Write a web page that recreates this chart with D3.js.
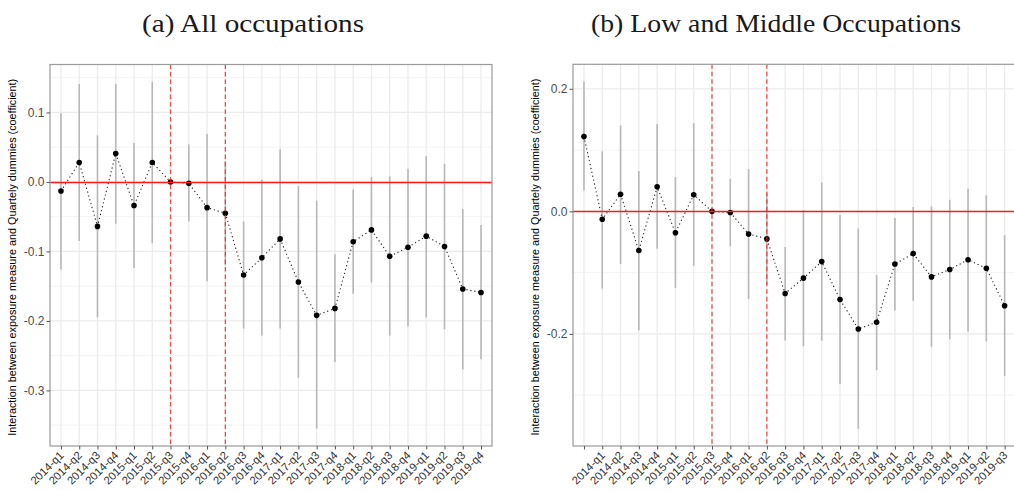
<!DOCTYPE html>
<html>
<head>
<meta charset="utf-8">
<script src="https://cdn.jsdelivr.net/npm/d3@7"></script>
<style>
    body { margin: 0; background: #fff; }
    svg { display: block; }
</style>
</head>
<body>
<svg id="chart" width="1014" height="491"></svg>
<script>
// panel (a): all occupations
var catsA = ["2014-q1","2014-q2","2014-q3","2014-q4","2015-q1","2015-q2","2015-q3","2015-q4",
             "2016-q1","2016-q2","2016-q3","2016-q4","2017-q1","2017-q2","2017-q3","2017-q4",
             "2018-q1","2018-q2","2018-q3","2018-q4","2019-q1","2019-q2","2019-q3","2019-q4"];
var estA  = [-0.013, 0.028, -0.064, 0.041, -0.034, 0.028, 0.000, -0.002, -0.037, -0.045, -0.134, -0.109,
             -0.082, -0.144, -0.192, -0.182, -0.086, -0.069, -0.107, -0.094, -0.078, -0.093, -0.154, -0.159];
var lowA  = [-0.126, -0.085, -0.195, -0.060, -0.124, -0.088, 0.000, -0.057, -0.143, -0.120, -0.211, -0.221,
             -0.211, -0.282, -0.355, -0.259, -0.161, -0.145, -0.221, -0.208, -0.195, -0.212, -0.270, -0.255];
var highA = [0.099, 0.141, 0.067, 0.141, 0.056, 0.144, 0.000, 0.054, 0.069, 0.030, -0.057, 0.003,
             0.047, -0.006, -0.027, -0.104, -0.011, 0.007, 0.008, 0.019, 0.037, 0.026, -0.039, -0.062];
var yTicksA = [0.1, 0, -0.1, -0.2, -0.3];
var yLabelsA = ["0.1", "0.0", "-0.1", "-0.2", "-0.3"];
var yMinorA = [0.15, 0.05, -0.05, -0.15, -0.25, -0.35];
var vlinesA = ["2015-q3", "2016-q2"];

// panel (b): low and middle occupations
var catsB = ["","2014-q1","2014-q2","2014-q3","2014-q4","2015-q1","2015-q2","2015-q3","2015-q4",
             "2016-q1","2016-q2","2016-q3","2016-q4","2017-q1","2017-q2","2017-q3","2017-q4",
             "2018-q1","2018-q2","2018-q3","2018-q4","2019-q1","2019-q2","2019-q3"];
var estB  = [0.122, -0.013, 0.028, -0.064, 0.040, -0.035, 0.027, 0.000, -0.002, -0.037, -0.045, -0.134,
             -0.109, -0.082, -0.144, -0.192, -0.181, -0.086, -0.069, -0.107, -0.095, -0.079, -0.093, -0.154];
var lowB  = [0.034, -0.126, -0.086, -0.194, -0.061, -0.125, -0.089, 0.000, -0.057, -0.143, -0.120, -0.211,
             -0.220, -0.211, -0.282, -0.355, -0.259, -0.162, -0.146, -0.221, -0.209, -0.196, -0.212, -0.269];
var highB = [0.212, 0.098, 0.140, 0.066, 0.142, 0.056, 0.144, 0.000, 0.053, 0.069, 0.030, -0.058,
             0.002, 0.047, -0.006, -0.028, -0.104, -0.011, 0.007, 0.008, 0.019, 0.037, 0.026, -0.039];
var yTicksB = [0.2, 0, -0.2];
var yLabelsB = ["0.2", "0.0", "-0.2"];
var yMinorB = [0.1, -0.1, -0.3];
var vlinesB = ["2015-q3", "2016-q2"];

var yTitle = "Interaction between exposure measure and Quartely dummies (coefficient)";

var svg = d3.select("#chart");

function drawPanel(p)
{
    var g = svg.append("g");

    var x = d3.scalePoint().domain(p.cats).range([p.left, p.right]).padding(0.6);
    var y = d3.scaleLinear().domain(p.ydomain).range([p.bottom, p.top]);

    // gridlines
    g.selectAll(".minor").data(p.minor).enter().append("line")
        .attr("x1", p.left).attr("x2", p.right)
        .attr("y1", d => y(d)).attr("y2", d => y(d))
        .attr("stroke", "#f3f3f3").attr("stroke-width", 1);

    g.selectAll(".majorY").data(p.ticks).enter().append("line")
        .attr("x1", p.left).attr("x2", p.right)
        .attr("y1", d => y(d)).attr("y2", d => y(d))
        .attr("stroke", "#ebebeb").attr("stroke-width", 1.3);

    g.selectAll(".majorX").data(p.cats).enter().append("line")
        .attr("x1", d => x(d)).attr("x2", d => x(d))
        .attr("y1", p.top).attr("y2", p.bottom)
        .attr("stroke", "#ebebeb").attr("stroke-width", 1.3);

    var rows = p.cats.map((c, i) => ({cat: c, est: p.est[i], low: p.low[i], high: p.high[i]}));

    // error bars
    g.selectAll(".err").data(rows).enter().append("line")
        .attr("x1", d => x(d.cat)).attr("x2", d => x(d.cat))
        .attr("y1", d => y(d.low)).attr("y2", d => y(d.high))
        .attr("stroke", "#b8b8b8").attr("stroke-width", 1.6);

    // dotted connecting line
    var line = d3.line().x(d => x(d.cat)).y(d => y(d.est));
    g.append("path").datum(rows)
        .attr("d", line)
        .attr("fill", "none")
        .attr("stroke", "#222")
        .attr("stroke-width", 1.1)
        .attr("stroke-dasharray", "1.2,2.8");

    g.selectAll(".pt").data(rows).enter().append("circle")
        .attr("cx", d => x(d.cat)).attr("cy", d => y(d.est))
        .attr("r", 2.8).attr("fill", "#000");

    // reference lines
    var y0 = Math.round(y(0)) + 0.5;
    g.append("line")
        .attr("x1", p.left).attr("x2", p.right)
        .attr("y1", y0).attr("y2", y0)
        .attr("stroke", "#ff1a1a").attr("stroke-width", 1.3);

    g.selectAll(".vl").data(p.vlines).enter().append("line")
        .attr("x1", d => x(d)).attr("x2", d => x(d))
        .attr("y1", p.top).attr("y2", p.bottom)
        .attr("stroke", "#ff2020").attr("stroke-width", 1.3).attr("opacity", 0.8)
        .attr("stroke-dasharray", "4.5,3");

    // border
    g.append("rect")
        .attr("x", p.left).attr("y", p.top)
        .attr("width", p.right - p.left).attr("height", p.bottom - p.top)
        .attr("fill", "none").attr("stroke", "#9a9a9a").attr("stroke-width", 1.2);

    // axes
    var yAxis = d3.axisLeft(y).tickValues(p.ticks).tickSize(3.5).tickPadding(2)
        .tickFormat((d, i) => p.labels[i]);
    var ya = g.append("g").attr("transform", "translate(" + p.left + ",0)").call(yAxis);
    ya.select(".domain").remove();
    ya.selectAll("line").attr("stroke", "#555");
    ya.selectAll("text").attr("fill", "#4d4d4d").style("font-size", "12px")
        .style("font-family", "'Liberation Sans', Arial, sans-serif");

    var xAxis = d3.axisBottom(x).tickSize(3.5).tickPadding(2);
    var xa = g.append("g").attr("transform", "translate(0," + p.bottom + ")").call(xAxis);
    xa.select(".domain").remove();
    xa.selectAll("line").attr("stroke", "#555");
    xa.selectAll("text")
        .attr("fill", "#333")
        .style("font-size", "11.3px")
        .style("font-family", "'Liberation Sans', Arial, sans-serif")
        .attr("text-anchor", "end")
        .attr("dy", null)
        .attr("y", 0)
        .attr("transform", "translate(3,10) rotate(-45)");

    // y title
    g.append("text")
        .attr("transform", "translate(" + p.ytitleX + "," + ((p.top + p.bottom) / 2 + 2) + ") rotate(-90)")
        .attr("text-anchor", "middle")
        .style("font-size", "10.8px")
        .style("font-family", "'Liberation Sans', Arial, sans-serif")
        .attr("fill", "#000")
        .text(yTitle);

    // panel title
    g.append("text")
        .attr("x", p.titleX).attr("y", 32)
        .attr("text-anchor", "middle")
        .attr("textLength", p.titleW)
        .attr("lengthAdjust", "spacingAndGlyphs")
        .style("font-size", "25px")
        .style("font-family", "'Liberation Serif', 'DejaVu Serif', serif")
        .attr("fill", "#1a1a1a")
        .text(p.title);
}

drawPanel({
    cats: catsA, est: estA, low: lowA, high: highA,
    ticks: yTicksA, labels: yLabelsA, minor: yMinorA, vlines: vlinesA,
    ydomain: [-0.380, 0.169],
    left: 50, right: 492, top: 64.5, bottom: 446,
    ytitleX: 16, titleX: 253, titleW: 222,
    title: "(a) All occupations"
});

drawPanel({
    cats: catsB, est: estB, low: lowB, high: highB,
    ticks: yTicksB, labels: yLabelsB, minor: yMinorB, vlines: vlinesB,
    ydomain: [-0.383, 0.240],
    left: 573, right: 1015.6, top: 64.3, bottom: 446,
    ytitleX: 539, titleX: 776, titleW: 370,
    title: "(b) Low and Middle Occupations"
});
</script>
</body>
</html>
